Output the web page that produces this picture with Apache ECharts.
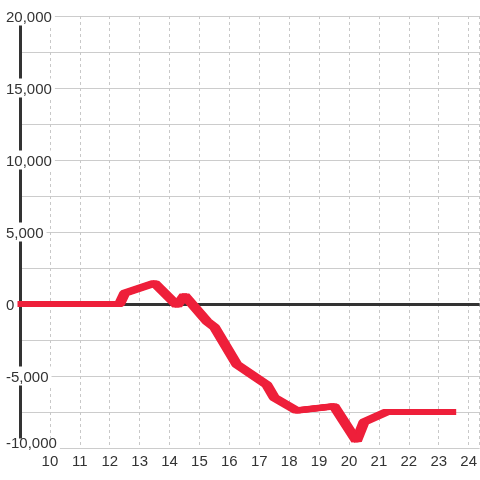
<!DOCTYPE html>
<html>
<head>
<meta charset="utf-8">
<script src="https://cdn.jsdelivr.net/npm/echarts@6/dist/echarts.min.js"></script>
<style>
  html, body { margin: 0; padding: 0; background: #fff; }
  #chart { width: 480px; height: 480px; }
</style>
</head>
<body>
<div id="chart"></div>
<script>
// hour of day and value
const hours = [9, 12.33, 12.5, 13.5, 14.25, 14.5, 15.25, 15.5, 16.25, 17.25, 17.5, 18.25, 19.5, 20.25, 20.5, 21.25, 23.5]
const values = [0, 0, 750, 1450, -100, 600, -1200, -1600, -4200, -5600, -6500, -7400, -7100, -9500, -8200, -7500, -7500]
const xTicks = [10, 11, 12, 13, 14, 15, 16, 17, 18, 19, 20, 21, 22, 23, 24]
const yLabels = [-10000, -5000, 0, 5000, 10000, 15000, 20000]

const lineData = hours.map((h, i) => [h, values[i]])

// the pen is wider sideways than up-down, so the line is drawn twice with a sideways shadow
function redLine(dx) {
  return {
    type: 'line',
    data: lineData,
    showSymbol: false,
    silent: true,
    z: 3,
    lineStyle: {
      color: '#ee1f3a',
      width: 6,
      cap: 'butt',
      join: 'bevel',
      shadowColor: '#ee1f3a',
      shadowBlur: 0,
      shadowOffsetX: dx
    }
  }
}

const zeroLine = {
  type: 'line',
  data: [],
  markLine: {
    z: 1,
    silent: true,
    symbol: ['none', 'none'],
    label: { show: false },
    lineStyle: { color: '#333', width: 3, type: 'solid' },
    data: [{ yAxis: 0 }]
  }
}

const myChart = echarts.init(document.getElementById('chart'))
myChart.setOption({
  backgroundColor: '#fff',
  animation: false,
  grid: {
    top: 16,
    left: 20,
    right: -1,
    bottom: 32
  },
  xAxis: {
    type: 'value',
    min: 9,
    max: 24.3667,
    interval: 1,
    axisLine: { show: false },
    axisTick: { show: false },
    axisLabel: {
      color: '#333',
      fontSize: 15,
      fontFamily: 'Liberation Sans',
      margin: 6,
      showMaxLabel: false,
      formatter: (v) => (xTicks.indexOf(v) >= 0 ? String(v) : '')
    },
    splitLine: {
      show: true,
      lineStyle: { color: '#c8c8c8', type: [3, 3], width: 1 }
    }
  },
  yAxis: {
    type: 'value',
    min: -10000,
    max: 20000,
    interval: 2500,
    axisLine: {
      show: true,
      lineStyle: { color: '#333', width: 3 }
    },
    axisTick: { show: false },
    axisLabel: {
      color: '#333',
      fontSize: 15,
      fontFamily: 'Liberation Sans',
      align: 'left',
      margin: 14,
      lineHeight: 16,
      backgroundColor: '#fff',
      padding: [3, 3, 0, 0],
      formatter: (v) => {
        if (yLabels.indexOf(v) < 0) return ''
        const s = v.toLocaleString('en-US')
        // bottom label sits a bit higher, inside the plot
        return v === -10000 ? '{low|' + s + '}' : s
      },
      rich: {
        low: {
          color: '#333',
          fontSize: 15,
          fontFamily: 'Liberation Sans',
          lineHeight: 16,
          padding: [0, 0, 12, 0]
        }
      }
    },
    splitLine: {
      show: true,
      lineStyle: { color: '#cccccc', width: 1 }
    }
  },
  series: [zeroLine, redLine(-2.5), redLine(2.5)]
})
</script>
</body>
</html>
